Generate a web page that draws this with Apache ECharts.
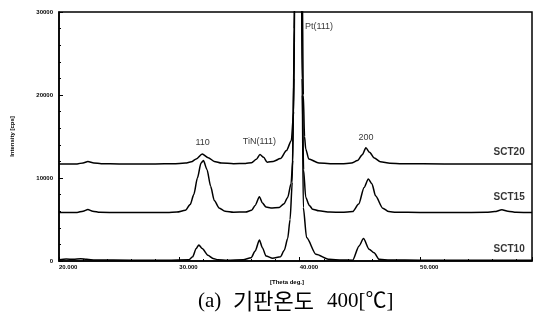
<!DOCTYPE html>
<html><head><meta charset="utf-8">
<script src="https://cdn.jsdelivr.net/npm/echarts@6/dist/echarts.min.js"></script>
<style>html,body{margin:0;padding:0;background:#fff}#c{width:535px;height:322px}</style>
</head><body><div id="c"></div>
<script>
// X-ray diffraction data (2theta in degrees, intensity in cps)
const sct20Theta = [20.0,21.5,22.0,22.4,22.9,23.5,25.0,28.0,29.5,30.5,31.0,31.4,31.9,32.4,32.9,33.5,34.5,35.5,36.0,36.4,36.7,37.0,37.3,37.8,38.4,38.9,39.3,39.5,39.6,39.88,40.2,40.3,40.4,40.5,40.75,41.6,43.0,43.5,44.3,44.8,45.2,45.5,45.8,46.2,46.7,47.5,48.5,52.0,56.0,59.3];
const sct20Int   = [11700,11700,11820,11980,11820,11720,11700,11700,11720,11800,11950,12300,12900,12450,12000,11800,11730,11750,11850,12250,12820,12500,11890,12000,12340,13300,14500,18000,35000,100000,35000,20000,15000,13500,12300,11800,11720,11720,11800,12100,12800,13630,13100,12400,11950,11780,11720,11700,11700,11700];

const sct15Theta = [20.0,21.5,22.0,22.4,22.8,23.4,25.0,29.0,29.8,30.5,30.9,31.2,31.5,31.8,32.0,32.3,32.6,32.9,33.3,33.8,34.5,35.5,36.0,36.3,36.65,36.9,37.2,37.6,38.3,38.7,39.0,39.28,39.42,39.55,39.88,40.22,40.32,40.5,40.8,41.07,41.6,42.5,43.5,44.4,44.9,45.35,45.7,46.0,46.3,46.9,47.4,48.0,50.0,53.0,55.5,56.2,56.8,57.3,58.0,59.3];
const sct15Int   = [5840,5850,6000,6200,6000,5870,5840,5850,5900,6100,6800,8000,10000,11800,12100,11000,9000,7300,6400,6000,5880,5900,6100,6700,7740,7000,6500,6400,6450,6900,7660,9300,12100,28000,100000,20000,11000,7660,6700,6250,6050,5900,5860,5950,6860,8870,9880,9300,7860,6370,5960,5870,5850,5840,5860,5950,6170,6000,5860,5840];

const sct10Theta = [20.0,20.6,21.2,21.8,22.3,23.0,26.0,29.0,30.8,31.1,31.4,31.62,31.9,32.37,32.8,33.2,34.0,35.3,35.96,36.3,36.65,36.9,37.2,37.75,38.4,38.72,39.0,39.2,39.38,39.5,39.88,40.2,40.3,40.57,41.35,42.45,43.5,44.4,44.93,45.3,45.77,46.18,46.6,47.5,50.0,54.0,59.3];
const sct10Int   = [150,250,200,280,200,120,100,100,150,500,1500,1940,1500,690,300,150,100,150,400,1200,2540,1600,600,330,500,1300,2700,5000,9500,22000,100000,22000,6450,2820,810,200,120,100,1810,2700,1415,1000,200,120,100,100,100];

const sampleNames = ['SCT20','SCT15','SCT10'];
const sampleLabelTheta = [57.4,57.4,57.4];
const sampleLabelInt = [13100,7660,1415];

const peakNames = ['110','TiN(111)','200','Pt(111)'];
const peakLabelTheta = [31.93,36.65,45.5,41.6];
const peakLabelInt = [14310,14430,14880,28220];

const xTicks = [20,30,40,50];
const yTicks = [0,10000,20000,30000];

const zip = (a,b) => a.map((v,i)=>[v,b[i]]);
const lineStyle = {color:'#000', width:1.5};
const mkLine = (name, t, v) => ({
  name, type:'line', data: zip(t,v), showSymbol:false, symbol:'none',
  smooth:0.25, smoothMonotone:'x', clip:true, lineStyle, silent:true, animation:false
});

const chart = echarts.init(document.getElementById('c'), null, {renderer:'canvas'});
chart.setOption({
  animation:false,
  backgroundColor:'#fff',
  grid:{left:59, right:0, top:12, bottom:61, show:true, borderColor:'#000', borderWidth:1.5, backgroundColor:'transparent'},
  xAxis:{
    type:'value', min:20, max:59.3, interval:10,
    axisLine:{lineStyle:{color:'#000', width:1.5}},
    axisTick:{inside:true, length:4, lineStyle:{color:'#000'}},
    minorTick:{show:true, splitNumber:5, length:2, lineStyle:{color:'#000'}},
    splitLine:{show:false},
    axisLabel:{
      align:'left', margin:3, fontSize:6, fontWeight:'bold', color:'#000', fontFamily:'Liberation Sans',
      formatter:(v)=> xTicks.includes(Math.round(v*1000)/1000) ? v.toFixed(3) : ''
    }
  },
  yAxis:{
    type:'value', min:0, max:30000, interval:10000,
    name:'Intensity [cps]', nameLocation:'middle', nameRotate:90, nameGap:44,
    nameTextStyle:{fontSize:6, fontWeight:'bold', color:'#000', fontFamily:'Liberation Sans'},
    axisLine:{show:true, lineStyle:{color:'#000', width:1.5}},
    axisTick:{inside:true, length:4, lineStyle:{color:'#000'}},
    minorTick:{show:true, splitNumber:5, length:2, lineStyle:{color:'#000'}},
    splitLine:{show:false},
    axisLabel:{
      margin:6, fontSize:6, fontWeight:'bold', color:'#000', fontFamily:'Liberation Sans',
      formatter:(v)=> yTicks.includes(v) ? String(v) : ''
    }
  },
  series:[
    mkLine('SCT20', sct20Theta, sct20Int),
    mkLine('SCT15', sct15Theta, sct15Int),
    mkLine('SCT10', sct10Theta, sct10Int),
    {
      type:'scatter', symbolSize:0, silent:true,
      data: sampleNames.map((n,i)=>({name:n, value:[sampleLabelTheta[i], sampleLabelInt[i]]})),
      label:{show:true, position:'inside', formatter:'{b}', color:'#000', fontSize:10, fontWeight:'bold', fontFamily:'Liberation Sans'}
    },
    {
      type:'scatter', symbolSize:0, silent:true,
      data: peakNames.map((n,i)=>({name:n, value:[peakLabelTheta[i], peakLabelInt[i]]})),
      label:{show:true, position:'inside', formatter:'{b}', color:'#000', fontSize:9, fontFamily:'Liberation Sans'}
    }
  ],
  graphic:[
    {type:'text', left:270, top:279, style:{text:'[Theta deg.]', fontSize:6, fontWeight:'bold', fill:'#000', fontFamily:'Liberation Sans'}},
    {type:'text', left:198, top:291, style:{text:'(a)', fontSize:21, fill:'#000', fontFamily:'Liberation Serif'}},
    {type:'text', left:233, top:290, style:{text:'기판온도', fontSize:22, fill:'#000', fontFamily:'"Noto Sans CJK KR"'}},
    {type:'text', left:327, top:291, style:{text:'400[℃]', fontSize:21, fill:'#000', fontFamily:'Liberation Serif, "Noto Sans CJK KR"'}}
  ]
});
</script></body></html>
